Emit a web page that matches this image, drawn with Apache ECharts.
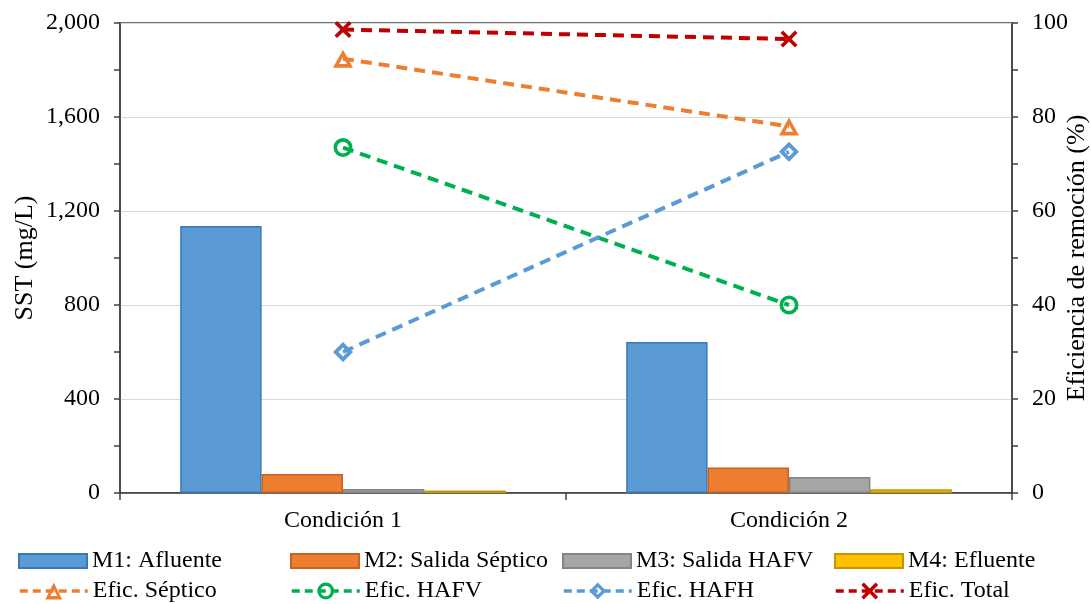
<!DOCTYPE html>
<html>
<head>
<meta charset="utf-8">
<script src="https://cdn.jsdelivr.net/npm/echarts@6/dist/echarts.min.js"></script>
<style>
  html, body { margin: 0; padding: 0; background: #fff; }
  #chart { width: 1091px; height: 604px; }
</style>
</head>
<body>
<div id="chart"></div>
<script>
// Categories and measured values
const categories = ['Condición 1', 'Condición 2'];

// SST concentrations (mg/L)
const m1Afluente = [1136, 643];
const m2SalidaSeptico = [81, 108];
const m3SalidaHAFV = [17, 68];
const m4Efluente = [11, 16];

// Removal efficiencies (%)
const eficSeptico = [92.4, 78.0];
const eficHAFV = [73.5, 40.0];
const eficHAFH = [30.0, 72.6];
const eficTotal = [98.6, 96.6];

const leftTicks = { min: 0, max: 2000, interval: 400 };
const rightTicks = { min: 0, max: 100, interval: 20 };

const FONT = '"Liberation Serif", "Times New Roman", serif';
const AXIS = '#404040';

const barNames = ['M1: Afluente', 'M2: Salida Séptico', 'M3: Salida HAFV', 'M4: Efluente'];
const barData = [m1Afluente, m2SalidaSeptico, m3SalidaHAFV, m4Efluente];
const barFill = ['#5b9bd5', '#ed7d31', '#a5a5a5', '#ffc000'];
const barEdge = ['#3a78b5', '#c9621f', '#858585', '#c79500'];

// Hollow marker outlines (outer contour clockwise, inner counter-clockwise)
const triangleRing = 'path://M50,0L100,90L0,90Z M50,36L30,72L70,72Z';
const circleRing = 'path://M0,50A50,50 0 1,1 100,50A50,50 0 1,1 0,50Z M19,50A31,31 0 1,0 81,50A31,31 0 1,0 19,50Z';
const diamondRing = 'path://M50,0L100,50L50,100L0,50Z M50,27L27,50L50,73L73,50Z';
const crossMark = 'path://M0,1.5L1.5,0L5,3.5L8.5,0L10,1.5L6.5,5L10,8.5L8.5,10L5,6.5L1.5,10L0,8.5L3.5,5Z';

const lineNames = ['Efic. Séptico', 'Efic. HAFV', 'Efic. HAFH', 'Efic. Total'];
const lineData = [eficSeptico, eficHAFV, eficHAFH, eficTotal];
const lineColor = ['#ed7d31', '#00b050', '#5b9bd5', '#c00000'];
const lineSymbol = [triangleRing, circleRing, diamondRing, crossMark];
const lineSymbolSize = [[20, 18], 19, 20, 17];

const series = [];
barNames.forEach((name, i) => {
  series.push({
    name, type: 'bar', yAxisIndex: 0,
    data: barData[i],
    barGap: '0%', barCategoryGap: '27%',
    itemStyle: { color: barFill[i], borderColor: barEdge[i], borderWidth: 1.5 }
  });
});
lineNames.forEach((name, i) => {
  series.push({
    name, type: 'line', yAxisIndex: 1,
    data: lineData[i],
    symbol: lineSymbol[i],
    symbolSize: lineSymbolSize[i],
    lineStyle: { color: lineColor[i], width: 4, type: [11, 7] },
    itemStyle: { color: lineColor[i], borderWidth: 0 },
    z: 5
  });
});

// One legend per entry so the entries line up in a 4-column grid
const legendCols = [18, 290, 562, 834];
const legendRows = [549, 579];
const legends = [];
barNames.concat(lineNames).forEach((name, k) => {
  const row = Math.floor(k / 4), col = k % 4;
  const isBar = row === 0;
  legends.push({
    data: [isBar ? { name, icon: 'rect' } : name],
    left: legendCols[col], top: legendRows[row],
    padding: 0,
    itemWidth: 68, itemHeight: isBar ? 14 : 21,
    lineStyle: { width: 3.5, type: [8, 5] },
    textStyle: { fontFamily: FONT, fontSize: 24, color: '#000' },
    selectedMode: false
  });
});

const chart = echarts.init(document.getElementById('chart'));
chart.setOption({
  animation: false,
  backgroundColor: '#fff',
  grid: {
    left: 120, right: 79, top: 23, bottom: 111,
    containLabel: false, outerBoundsMode: 'none',
    show: true, borderColor: AXIS, borderWidth: 1.5, backgroundColor: 'transparent'
  },
  legend: legends,
  xAxis: {
    type: 'category',
    data: categories,
    axisLine: { lineStyle: { color: AXIS, width: 1.5 } },
    axisTick: { show: true, length: 7, lineStyle: { color: AXIS, width: 1.5 } },
    axisLabel: { fontFamily: FONT, fontSize: 24, color: '#000', margin: 16 }
  },
  yAxis: [
    {
      type: 'value', ...leftTicks,
      name: 'SST (mg/L)', nameLocation: 'middle', nameGap: 82,
      nameMoveOverlap: false,
      nameTextStyle: { fontFamily: FONT, fontSize: 26, color: '#000' },
      axisLine: { show: true, lineStyle: { color: AXIS, width: 1.5 } },
      axisTick: { show: true, length: 6, lineStyle: { color: AXIS, width: 1.5 } },
      minorTick: { show: true, splitNumber: 2, length: 6, lineStyle: { color: AXIS, width: 1.5 } },
      axisLabel: {
        fontFamily: FONT, fontSize: 24, color: '#000', margin: 20,
        formatter: v => v.toLocaleString('en-US')
      },
      splitLine: { show: true, lineStyle: { color: '#d9d9d9', width: 1 } }
    },
    {
      type: 'value', ...rightTicks,
      name: 'Eficiencia de remoción (%)', nameLocation: 'middle', nameGap: 52,
      nameRotate: 90, nameMoveOverlap: false,
      nameTextStyle: { fontFamily: FONT, fontSize: 26, color: '#000' },
      axisLine: { show: true, lineStyle: { color: AXIS, width: 1.5 } },
      axisTick: { show: true, length: 6, lineStyle: { color: AXIS, width: 1.5 } },
      minorTick: { show: true, splitNumber: 2, length: 6, lineStyle: { color: AXIS, width: 1.5 } },
      axisLabel: { fontFamily: FONT, fontSize: 24, color: '#000', margin: 20 },
      splitLine: { show: false }
    }
  ],
  series
});
</script>
</body>
</html>
